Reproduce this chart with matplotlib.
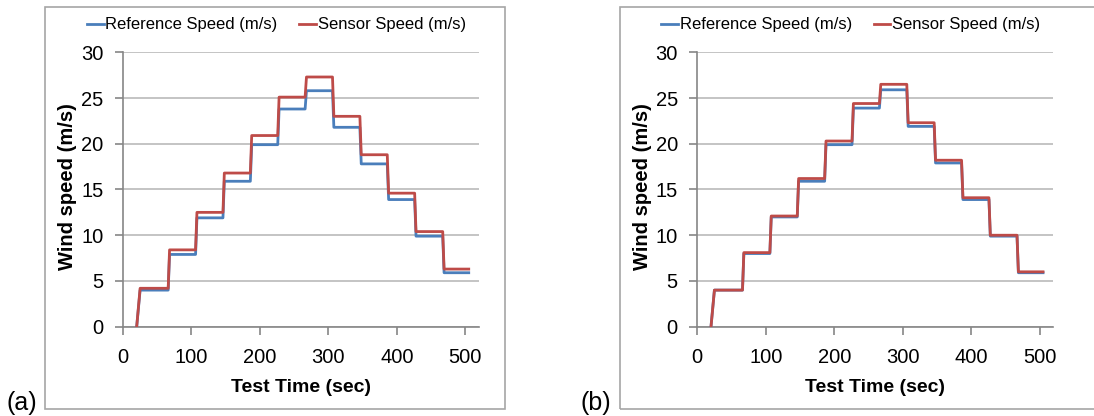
import matplotlib
matplotlib.use("Agg")
import matplotlib.pyplot as plt
from matplotlib.patches import Rectangle

plt.rcParams['font.family'] = ['Liberation Sans', 'DejaVu Sans']

# wind tunnel steps: start time, switch times between levels, end time
t_start = 20
t_end = 505
switch_times = [66, 106, 146, 186, 226, 266, 306, 346, 386, 426, 467]

ref_a = [4.0, 7.9, 11.9, 15.9, 19.9, 23.8, 25.8, 21.8, 17.8, 13.9, 9.9, 5.9]
sen_a = [4.2, 8.4, 12.5, 16.8, 20.9, 25.1, 27.3, 23.0, 18.8, 14.6, 10.4, 6.3]
ref_b = [4.0, 8.0, 12.0, 15.9, 19.9, 23.9, 25.9, 21.9, 17.9, 13.9, 9.9, 5.9]
sen_b = [4.0, 8.1, 12.1, 16.2, 20.3, 24.4, 26.5, 22.3, 18.2, 14.1, 10.0, 6.0]

panel_labels = ["(a)", "(b)"]

BLUE = "#4a7ebb"
RED = "#be4b48"
GRID = "#bfbfbf"
AXIS = "#868686"


def steps(levels):
    # build the staircase path from the levels, short ramp at each switch
    xs, ys = [t_start], [0]
    ends = switch_times + [t_end]
    begin = t_start + 5
    for lev, end in zip(levels, ends):
        xs += [begin, end]
        ys += [lev, lev]
        begin = end + 2
    return xs, ys


fig = plt.figure(figsize=(10.94, 4.16), dpi=100)
W, H = 1094, 416

panels = [
    dict(left=123, box_left=45, box_right=505, ref=ref_a, sen=sen_a, lab_x=22),
    dict(left=697.3, box_left=620, box_right=1100, ref=ref_b, sen=sen_b, lab_x=596),
]

for p, lab in zip(panels, panel_labels):
    # chart-area border (Excel style)
    fig.patches.append(Rectangle((p["box_left"] / W, 1 - 409.3 / H),
                                 (p["box_right"] - p["box_left"]) / W, (409.3 - 7.3) / H,
                                 transform=fig.transFigure, fill=False,
                                 edgecolor="#a6a6a6", linewidth=1.2))
    ax = fig.add_axes([p["left"] / W, 1 - 326.7 / H, 356 / W, (326.7 - 52.3) / H])

    x, y = steps(p["ref"])
    ax.plot(x, y, color=BLUE, lw=2.0, label="Reference Speed (m/s)", zorder=3)
    x, y = steps(p["sen"])
    ax.plot(x, y, color=RED, lw=2.0, label="Sensor Speed (m/s)", zorder=4)

    ax.set_xlim(0, 520)
    ax.set_ylim(0, 30)
    ax.set_xticks(range(0, 501, 100))
    ax.set_yticks(range(0, 31, 5))
    ax.yaxis.grid(True, color=GRID, lw=1.3)
    ax.set_axisbelow(True)
    for s in ["top", "right"]:
        ax.spines[s].set_visible(False)
    for s in ["left", "bottom"]:
        ax.spines[s].set_color(AXIS)
        ax.spines[s].set_linewidth(1.2)
    ax.tick_params(axis="both", colors=AXIS, length=6, width=1.2, labelsize=14.5,
                   labelcolor="black", direction="out")
    ax.tick_params(axis="x", pad=9)
    ax.tick_params(axis="y", pad=8)

    ax.set_xlabel("Test Time (sec)", fontsize=14, fontweight="bold")
    ax.set_ylabel("Wind speed (m/s)", fontsize=14.5, fontweight="bold")
    ax.xaxis.label.set_va("center")
    ax.yaxis.label.set_va("center")
    ax.xaxis.set_label_coords(0.5, -0.223)
    ax.yaxis.set_label_coords(-0.155, 0.51)

    ax.legend(loc="center", bbox_to_anchor=(0.431, 1.10), ncol=2, frameon=False,
              fontsize=12, handlelength=1.0, handletextpad=0.1,
              columnspacing=1.3, borderpad=0)

    fig.text(p["lab_x"] / W, 1 - 403 / H, lab, fontsize=18, ha="center", va="center")

fig.savefig("out.png", dpi=100)
